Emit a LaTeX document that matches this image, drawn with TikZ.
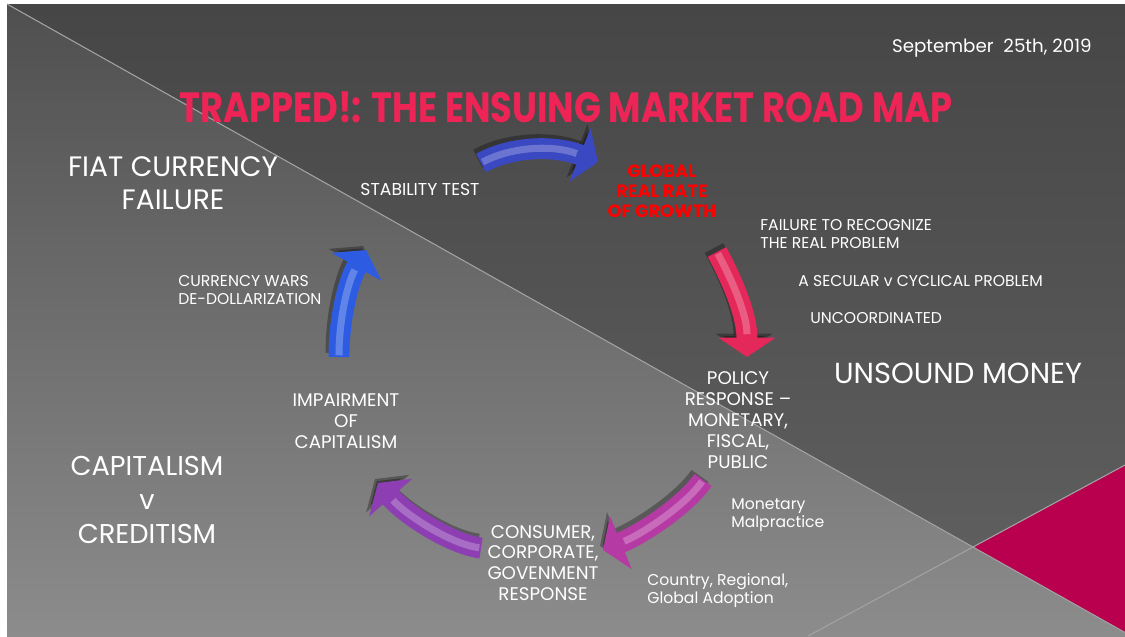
\documentclass[tikz,border=0pt]{standalone}
\usepackage{fontspec}
\setmainfont{Poppins}
\usetikzlibrary{arrows.meta}

\definecolor{slidedark}{HTML}{464646}
\definecolor{slidemid}{HTML}{4B4B4B}
\definecolor{slidelight}{HTML}{8C8C8C}
\definecolor{edgeline}{HTML}{A3A3A3}
\definecolor{titlepink}{HTML}{EE2456}
\definecolor{growthred}{HTML}{FF0000}
\definecolor{cornerred}{HTML}{B8004E}
\definecolor{testblue}{HTML}{3A48C2}
\definecolor{failpink}{HTML}{E4285A}
\definecolor{policymag}{HTML}{B53AA4}
\definecolor{respviolet}{HTML}{8C3EB2}
\definecolor{warblue}{HTML}{2D5CE2}

\tikzset{
  bigarrow/.style={line width=11.9pt,-{Triangle[length=11pt,width=32pt]}},
  txt/.style={text=white,inner sep=0pt,align=center,font=\fontsize{10.4}{11.9}\selectfont},
  note/.style={txt,anchor=west,align=left,font=\fontsize{8.9}{10.2}\selectfont},
  bigtxt/.style={txt,font=\fontsize{16}{18.8}\selectfont}
}

% curved 3d arrow: colour, tail, controls, tip
\newcommand{\cyclearrow}[5]{%
  \draw[bigarrow,draw=black,opacity=0.3,transform canvas={shift={(-3,-4)}}] (#2) .. controls #3 and #4 .. (#5);
  \draw[bigarrow,draw=#1] (#2) .. controls #3 and #4 .. (#5);
  \draw[line width=4pt,draw=white,opacity=0.25,shorten >=13pt,shorten <=1pt] (#2) .. controls #3 and #4 .. (#5);
}

\begin{document}
\begin{tikzpicture}[x=0.02cm,y=-0.02cm]
  \useasboundingbox (0,0) rectangle (1125,636);
  % slide background
  \fill[white] (0,0) rectangle (1125,636);
  \shade[top color=slidedark!95!white,middle color=slidemid,bottom color=slidelight] (7,4) rectangle (1125,636);
  \shade[top color=slidedark,bottom color=slidedark!85!white] (7,4) -- (1125,4) -- (1125,632.5) -- cycle;
  \fill[cornerred] (973,547) -- (1125,465) -- (1125,632.5) -- cycle;
  \draw[edgeline,line width=0.6pt] (7,4) -- (1125,632.5);
  \draw[edgeline,line width=0.6pt] (1125,465) -- (808,636);

  % header
  \node[txt,anchor=east,font=\fontsize{10.4}{11}\selectfont] (date) at (1092,48) {September\ \ 25th, 2019};
  \node[text=titlepink,inner sep=0pt] (title) at (566,107)
    {\resizebox{440pt}{17.5pt}{\bfseries TRAPPED!: THE ENSUING MARKET ROAD MAP}};

  % side captions
  \node[bigtxt] (fiat) at (173,183) {FIAT CURRENCY\\FAILURE};
  \node[bigtxt,font=\fontsize{15.5}{19.3}\selectfont] (capital) at (147,500) {CAPITALISM\\v\\CREDITISM};
  \node[bigtxt,font=\fontsize{16.5}{17}\selectfont] (unsound) at (958,373) {UNSOUND MONEY};

  % stages of the cycle
  \node[txt,font=\fontsize{9.8}{11}\selectfont] (test) at (420,189) {STABILITY TEST};
  \node[txt,text=growthred,font=\bfseries\fontsize{10.1}{11.3}\selectfont] (growth) at (662,191) {GLOBAL\\REAL RATE\\OF GROWTH};
  \node[txt] (policy) at (738,420) {POLICY\\RESPONSE –\\MONETARY,\\FISCAL,\\PUBLIC};
  \node[txt] (response) at (543,563) {CONSUMER,\\CORPORATE,\\GOVENMENT\\RESPONSE};
  \node[txt] (impair) at (346,421) {IMPAIRMENT\\OF\\CAPITALISM};

  % side notes
  \node[note] (recognize) at (760,234) {FAILURE TO RECOGNIZE\\THE REAL PROBLEM};
  \node[note] (secular) at (798,281) {A SECULAR v CYCLICAL PROBLEM};
  \node[note] (uncoord) at (810,318) {UNCOORDINATED};
  \node[note] (malpractice) at (731,515) {Monetary\\Malpractice};
  \node[note] (adoption) at (647,591) {Country, Regional,\\Global Adoption};
  \node[note] (wars) at (178,290) {CURRENCY WARS\\DE-DOLLARIZATION};

  % arrow ends
  \coordinate (testtail) at (481,163);
  \coordinate (testtip) at (598,162);
  \coordinate (growthtail) at (717,252);
  \coordinate (growthtip) at (747,357);
  \coordinate (policytail) at (703,480);
  \coordinate (policytip) at (603,550);
  \coordinate (responsetail) at (481,548);
  \coordinate (responsetip) at (378,483);
  \coordinate (impairtail) at (339,357);
  \coordinate (impairtip) at (366,250);

  % the cycle
  \cyclearrow{testblue}{testtail}{(512,146)}{(555,145)}{testtip}
  \cyclearrow{failpink}{growthtail}{(733,282)}{(747,315)}{growthtip}
  \cyclearrow{policymag}{policytail}{(686,505)}{(642,534)}{policytip}
  \cyclearrow{respviolet}{responsetail}{(450,544)}{(405,514)}{responsetip}
  \cyclearrow{warblue}{impairtail}{(339,318)}{(348,282)}{impairtip}
\end{tikzpicture}
\end{document}
